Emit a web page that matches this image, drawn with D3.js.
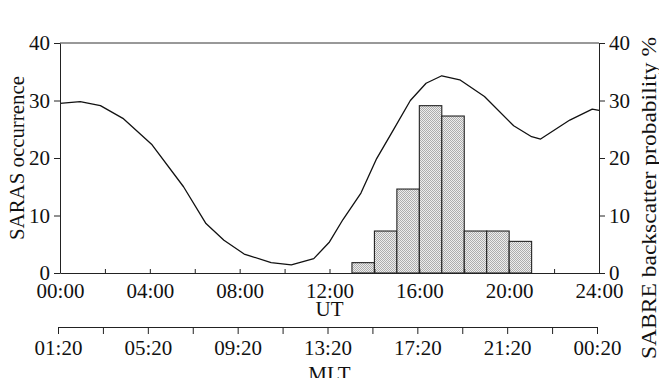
<!DOCTYPE html>
<html>
<head>
<meta charset="utf-8">
<script src="https://cdn.jsdelivr.net/npm/d3@7/dist/d3.min.js"></script>
<style>
  html, body { margin: 0; padding: 0; background: #fff; }
  svg { display: block; }
  text { font-family: "Liberation Serif", "DejaVu Serif", serif; fill: #111; }
</style>
</head>
<body>
<svg id="chart" width="659" height="378"></svg>
<script>
// ---- data ----
const curveHours = [0, 0.9, 1.8, 2.8, 4.1, 5.5, 6.5, 7.3, 8.2, 9.4, 10.3, 11.3, 12.0, 12.6, 13.4, 14.1, 14.8, 15.6, 16.3, 17.0, 17.8, 18.9, 20.2, 21.0, 21.4, 22.7, 23.7, 24.0];
const sabreProb  = [29.5, 29.8, 29.1, 26.9, 22.3, 15.0, 8.6, 5.7, 3.3, 1.8, 1.4, 2.5, 5.4, 9.3, 13.9, 19.9, 24.6, 30.0, 33.0, 34.3, 33.6, 30.7, 25.6, 23.7, 23.3, 26.6, 28.5, 28.3];
const binStart   = [13, 14, 15, 16, 17, 18, 19, 20];
const sarasCount = [1.8, 7.3, 14.6, 29.1, 27.3, 7.3, 7.3, 5.5];
const utLabels   = ["00:00", "04:00", "08:00", "12:00", "16:00", "20:00", "24:00"];
const mltLabels  = ["01:20", "05:20", "09:20", "13:20", "17:20", "21:20", "00:20"];
const yTicks     = [0, 10, 20, 30, 40];

// ---- layout ----
const svg = d3.select("#chart");
const L = 60, R = 599, T = 43, B = 273;
const x = d3.scaleLinear().domain([0, 24]).range([L, R]);
const y = d3.scaleLinear().domain([0, 40]).range([B, T]);
const xMlt = d3.scaleLinear().domain([0, 24]).range([L - 2, R - 2]);

const defs = svg.append("defs");
const pat = defs.append("pattern").attr("id", "stip")
  .attr("width", 2).attr("height", 2).attr("patternUnits", "userSpaceOnUse");
pat.append("rect").attr("width", 2).attr("height", 2).attr("fill", "#ededed");
pat.append("rect").attr("width", 1).attr("height", 1).attr("fill", "#adadad");
pat.append("rect").attr("x", 1).attr("y", 1).attr("width", 1).attr("height", 1).attr("fill", "#adadad");

// bars
svg.append("g").selectAll("rect").data(binStart).join("rect")
  .attr("x", d => x(d))
  .attr("width", d => x(d + 1) - x(d))
  .attr("y", (d, i) => y(sarasCount[i]))
  .attr("height", (d, i) => y(0) - y(sarasCount[i]))
  .attr("fill", "url(#stip)")
  .attr("stroke", "#222").attr("stroke-width", 1.1);

// curve
const pts = curveHours.map((h, i) => [h, sabreProb[i]]);
svg.append("path").datum(pts)
  .attr("fill", "none").attr("stroke", "#111").attr("stroke-width", 1.3)
  .attr("stroke-linejoin", "round")
  .attr("d", d3.line().x(d => x(d[0])).y(d => y(d[1])));

// frame top line
svg.append("line").attr("x1", L).attr("x2", R).attr("y1", T).attr("y2", T)
  .attr("stroke", "#333").attr("stroke-width", 1);

function styleAxis(g) {
  g.selectAll("path, line").attr("stroke", "#222").attr("stroke-width", 1);
  g.selectAll("text").attr("font-size", 21).attr("fill", "#111")
    .style("font-family", '"Liberation Serif", serif');
}

// left axis
svg.append("g").attr("transform", `translate(${L},0)`)
  .call(d3.axisLeft(y).tickValues(yTicks).tickSize(6).tickSizeOuter(0).tickPadding(4))
  .call(styleAxis);

// right axis
svg.append("g").attr("transform", `translate(${R},0)`)
  .call(d3.axisRight(y).tickValues(yTicks).tickSize(6).tickSizeOuter(0).tickPadding(4))
  .call(styleAxis);

// bottom UT axis: ticks every 2h (inward), labels every 4h
const utTickVals = d3.range(0, 25, 2);
const gB = svg.append("g").attr("transform", `translate(0,${B})`)
  .call(d3.axisBottom(x).tickValues(utTickVals).tickSize(-4).tickSizeOuter(0)
    .tickFormat(d => d % 4 === 0 ? utLabels[d / 4] : ""))
  .call(styleAxis);
gB.selectAll("text").attr("y", 10).attr("dy", "0.71em");

// MLT axis
const gM = svg.append("g").attr("transform", `translate(0,327)`)
  .call(d3.axisBottom(xMlt).tickValues(utTickVals).tickSize(7).tickSizeOuter(0)
    .tickFormat(d => d % 4 === 0 ? mltLabels[d / 4] : ""))
  .call(styleAxis);
gM.selectAll("text").attr("y", 13).attr("dy", "0.71em");

// titles
svg.append("text").attr("x", (L + R) / 2).attr("y", 316)
  .attr("text-anchor", "middle").attr("font-size", 21).text("UT");
svg.append("text").attr("x", (L + R) / 2).attr("y", 381)
  .attr("text-anchor", "middle").attr("font-size", 21).text("MLT");
svg.append("text")
  .attr("transform", `translate(24,${(T + B) / 2}) rotate(-90)`)
  .attr("text-anchor", "middle").attr("font-size", 21)
  .attr("textLength", 164).attr("lengthAdjust", "spacingAndGlyphs")
  .text("SARAS occurrence");
svg.append("text")
  .attr("transform", `translate(656,198) rotate(-90)`)
  .attr("text-anchor", "middle").attr("font-size", 21)
  .attr("textLength", 322).attr("lengthAdjust", "spacingAndGlyphs")
  .text("SABRE backscatter probability %");
</script>
</body>
</html>
